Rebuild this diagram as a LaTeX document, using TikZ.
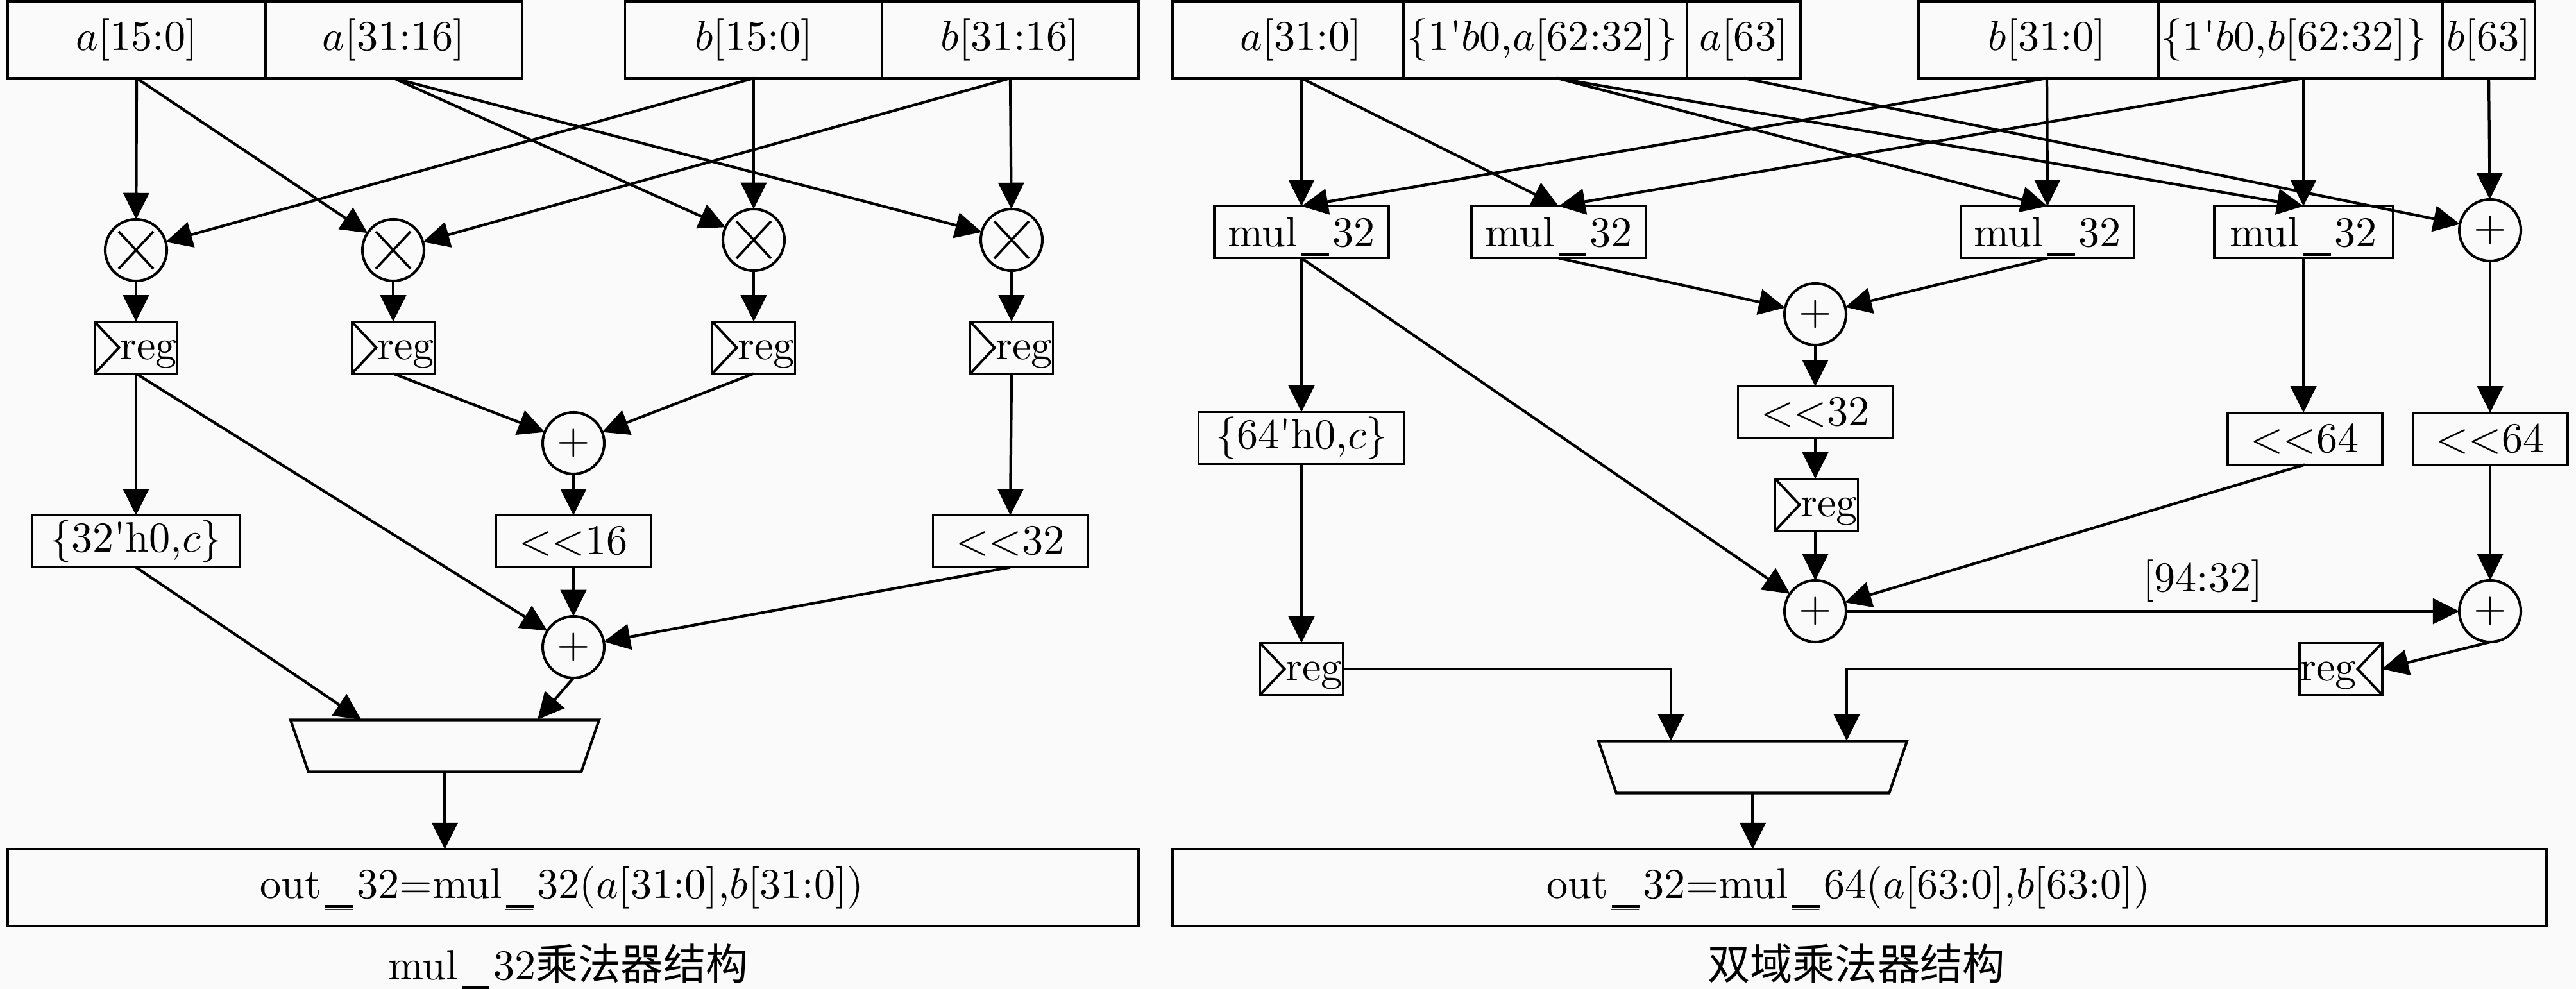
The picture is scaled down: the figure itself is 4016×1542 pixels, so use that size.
\RequirePackage{fix-cm}
\documentclass[tikz,border=0pt]{standalone}
\usepackage{fontspec}
\usetikzlibrary{arrows.meta,shapes.geometric,calc}
\newfontfamily\cjk{Noto Sans CJK SC}
\def\uu{0.16pt}
\newcommand\usc{\leavevmode\smash{\hbox to 8.8pt{\hss\rule[-2.3pt]{6.9pt}{0.7pt}\hss}\kern-8.8pt\lower1.7pt\hbox to 8.8pt{\hss\fontsize{9}{9}\selectfont\_\hss}}}
\newcommand\qq{\textquotesingle}
\newcommand\regt{\smash{\raisebox{-3pt}{reg}}}
\definecolor{bgc}{HTML}{FAFAFA}
\tikzset{
  x=0.16pt,y=-0.16pt,
  every node/.style={font=\fontsize{10.6}{12.7}\selectfont},
  cell/.style 2 args={draw,line width=0.62pt,minimum width=#1*\uu,minimum height=#2*\uu,inner sep=0pt,outer sep=0pt},
  mulc/.style={cell={272}{81}},
  shc/.style={cell={241}{81}},
  regl/.style={cell={129}{81},path picture={\draw[line width=0.62pt] (path picture bounding box.north west) -- ([xshift=38*\uu]path picture bounding box.west) -- (path picture bounding box.south west);}},
  regr/.style={cell={129}{81},path picture={\draw[line width=0.62pt] (path picture bounding box.north east) -- ([xshift=-38*\uu]path picture bounding box.east) -- (path picture bounding box.south east);}},
  pluso/.style={draw,circle,line width=0.65pt,minimum size=96*\uu,inner sep=0pt,outer sep=0pt},
  timeso/.style={pluso,path picture={\draw[line width=0.6pt] ($(path picture bounding box.center)+(-27,-29)$) -- ($(path picture bounding box.center)+(27,29)$) ($(path picture bounding box.center)+(-27,29)$) -- ($(path picture bounding box.center)+(27,-29)$);}},
  muxs/.style 2 args={draw,trapezium,shape border rotate=180,trapezium stretches body=true,trapezium angle=64.3,line width=0.65pt,minimum width=#1*\uu,minimum height=#2*\uu,inner sep=1pt,outer sep=0pt},
  wire/.style={line width=0.68pt,-{Triangle[length=6.6pt,width=6.4pt]}},
  txt/.style={inner sep=0pt}
}
\begin{document}
\begin{tikzpicture}
\useasboundingbox[fill=bgc] (0,0) rectangle (4016,1542);
% ===== left =====
\node[cell={402}{120}] (a15) at (213,62) {$a$[15:0]};
\node[cell={400}{120}] (a31) at (614,62) {$a$[31:16]};
\node[cell={401}{120}] (b15) at (1175,62) {$b$[15:0]};
\node[cell={400}{120}] (b31) at (1575,62) {$b$[31:16]};
\node[timeso] (m1) at (212,390) {};
\node[timeso] (m2) at (613,390) {};
\node[timeso] (m3) at (1175,374) {};
\node[timeso] (m4) at (1577,374) {};
\node[regl] (r1) at (212,542) {\hspace*{6.2pt}\regt};
\node[regl] (r2) at (613,542) {\hspace*{6.2pt}\regt};
\node[regl] (r3) at (1175,542) {\hspace*{6.2pt}\regt};
\node[regl] (r4) at (1577,542) {\hspace*{6.2pt}\regt};
\node[pluso] (p1) at (894,691) {$+$};
\node[cell={323}{81}] (c1) at (212,844) {$\{$32\qq h0,$c\}$};
\node[shc] (s1) at (894,844) {$<<$16};
\node[shc] (s2) at (1575,844) {$<<$32};
\node[pluso] (p2) at (894,1009) {$+$};
\node[muxs={481}{81}] (mx1) at (693.5,1163) {\phantom{XX}};
\coordinate (mx1a) at (563,1122);
\coordinate (mx1b) at (838,1122);
\node[cell={1763}{120}] (o1) at (893.5,1384) {out\usc 32=mul\usc 32($a$[31:0],$b$[31:0])\hspace*{5.6pt}};
\node[txt] (cap1) at (886,1502) {mul\usc 32{\cjk 乘法器结构}};
\draw[wire] (a15.south) -- (m1);
\draw[wire] (a15.south) -- (m2);
\draw[wire] (a31.south) -- (m3);
\draw[wire] (a31.south) -- (m4);
\draw[wire] (b15.south) -- (m1);
\draw[wire] (b15.south) -- (m3);
\draw[wire] (b31.south) -- (m2);
\draw[wire] (b31.south) -- (m4);
\draw[wire] (m1) -- (r1);
\draw[wire] (m2) -- (r2);
\draw[wire] (m3) -- (r3);
\draw[wire] (m4) -- (r4);
\draw[wire] (r1.south) -- (c1.north);
\draw[wire] (r1.south) -- (p2);
\draw[wire] (r2.south) -- (p1);
\draw[wire] (r3.south) -- (p1);
\draw[wire] (r4.south) -- (s2.north);
\draw[wire] (p1) -- (s1);
\draw[wire] (s1) -- (p2);
\draw[wire] (s2.south) -- (p2);
\draw[wire] (c1.south) -- (mx1a);
\draw[wire] (p2.south) -- (mx1b);
\draw[wire] (mx1.south) -- (mx1.south |- o1.north);
% ===== right =====
\node[cell={360}{120}] (A0) at (2008,62) {\hspace*{6.4pt}$a$[31:0]};
\node[cell={442}{120}] (A1) at (2409,62) {$\{$1\qq$b$0,$a$[62:32]$\}$\hspace*{1.6pt}};
\node[cell={177}{120}] (A2) at (2718.5,62) {$a$[63]};
\node[cell={374}{120}] (B0) at (3178,62) {\hspace*{4.2pt}$b$[31:0]};
\node[cell={443}{120}] (B1) at (3586.5,62) {$\{$1\qq$b$0,$b$[62:32]$\}$\hspace*{3.2pt}};
\node[cell={144}{120}] (B2) at (3880,62) {$b$[63]};
\coordinate (A0p) at (2029,122);
\coordinate (A1p) at (2428,122);
\coordinate (A2p) at (2719,122);
\coordinate (B0p) at (3191,122);
\coordinate (B1p) at (3591,122);
\coordinate (B2p) at (3880,122);
\node[mulc] (M1) at (2029,362) {mul\usc 32};
\node[mulc] (M2) at (2430,362) {mul\usc 32};
\node[cell={269}{81}] (M3) at (3192,362) {mul\usc 32};
\node[cell={279}{81}] (M4) at (3591,362) {mul\usc 32};
\node[pluso] (P0) at (3882,359) {$+$};
\node[pluso] (P1) at (2830,490) {$+$};
\node[shc] (S1) at (2830,643) {$<<$32};
\node[shc] (S2) at (3593,684) {$<<$64};
\node[shc] (S3) at (3882,684) {$<<$64};
\node[cell={321}{81}] (C1) at (2029,683) {$\{$64\qq h0,$c\}$};
\node[regl] (R1) at (2832,787) {\hspace*{6.2pt}\regt};
\node[regl] (R2) at (2029,1043) {\hspace*{6.2pt}\regt};
\node[regr] (R3) at (3649,1043) {\regt\hspace*{6.2pt}};
\node[pluso] (P2) at (2830,953) {$+$};
\node[pluso] (P3) at (3882,953) {$+$};
\node[txt] (lab) at (3434,906) {[94:32]};
\node[muxs={481}{81}] (mx2) at (2732.5,1196) {\phantom{XX}};
\coordinate (mx2a) at (2605,1155);
\coordinate (mx2b) at (2879,1155);
\node[cell={2142}{120}] (o2) at (2899,1384) {out\usc 32=mul\usc 64($a$[63:0],$b$[63:0])\hspace*{5.6pt}};
\node[txt] (cap2) at (2894,1502) {{\cjk 双域乘法器结构}};
\draw[wire] (A0p) -- (M1.north);
\draw[wire] (A0p) -- (M2.north);
\draw[wire] (B0p) -- (M1.north);
\draw[wire] (B1p) -- (M2.north);
\draw[wire] (A1p) -- (M3.north);
\draw[wire] (A1p) -- (M4.north);
\draw[wire] (B0p) -- (M3.north);
\draw[wire] (B1p) -- (M4.north);
\draw[wire] (A2p) -- (P0);
\draw[wire] (B2p) -- (P0);
\draw[wire] (M1.south) -- (C1.north);
\draw[wire] (M1.south) -- (P2);
\draw[wire] (M2.south) -- (P1);
\draw[wire] (M3.south) -- (P1);
\draw[wire] (M4.south) -- (M4.south |- S2.north);
\draw[wire] (P0) -- (S3);
\draw[wire] (P1) -- (S1);
\draw[wire] (S1) -- (S1 |- R1.north);
\draw[wire] (R1.south -| P2) -- (P2);
\draw[wire] (S2.south) -- (P2);
\draw[wire] (S3) -- (P3);
\draw[wire] (P2) -- (P3);
\draw[wire] (C1) -- (R2);
\draw[wire] (R2.east) -| (mx2a);
\draw[wire] (P3.south) -- (R3.east);
\draw[wire] (R3.west) -| (mx2b);
\draw[wire] (mx2.south) -- (mx2.south |- o2.north);
\end{tikzpicture}
\end{document}
